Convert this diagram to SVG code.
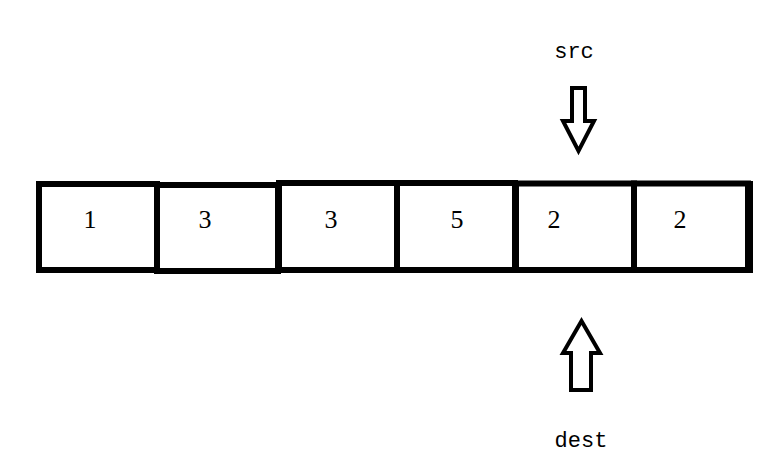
<svg xmlns="http://www.w3.org/2000/svg" width="781" height="459" viewBox="0 0 781 459">
<style>
.cell{fill:#fff;stroke:#000;stroke-width:6}
.num{font-family:"Liberation Serif",serif;font-size:26px;fill:#000;text-anchor:middle}
.lbl{font-family:"Liberation Mono",monospace;font-size:22px;fill:#000;text-anchor:middle}
.arr{fill:#fff;stroke:#000;stroke-width:4;stroke-linejoin:miter}
</style>
<rect width="781" height="459" fill="#fff"/>
<g id="cell1"><rect class="cell" x="39" y="184" width="118" height="86"/><text class="num" x="90" y="228">1</text></g>
<g id="cell2"><rect class="cell" x="157" y="185" width="121" height="86"/><text class="num" x="205" y="228">3</text></g>
<g id="cell3"><rect class="cell" x="279" y="183" width="118" height="87"/><text class="num" x="331" y="228">3</text></g>
<g id="cell4"><rect class="cell" x="397" y="183" width="118" height="87"/><text class="num" x="457" y="228">5</text></g>
<g id="cell5"><rect class="cell" x="516" y="183.5" width="118" height="86.5"/><text class="num" x="554" y="228">2</text></g>
<g id="cell6"><rect class="cell" x="634" y="183.5" width="114" height="86.5"/><line x1="750" y1="181" x2="750" y2="273" stroke="#000" stroke-width="6"/><text class="num" x="680" y="228">2</text></g>
<g id="src"><text class="lbl" x="574" y="58">src</text></g>
<g id="dest"><text class="lbl" x="581" y="447">dest</text></g>
<g id="connectors">
<polygon class="arr" points="572,88 585,88 585,121 594,121 578.5,151 563,121 572,121"/>
<polygon class="arr" points="581.5,321 600,353 591,353 591,390 571,390 571,353 563,353"/>
</g>
</svg>
